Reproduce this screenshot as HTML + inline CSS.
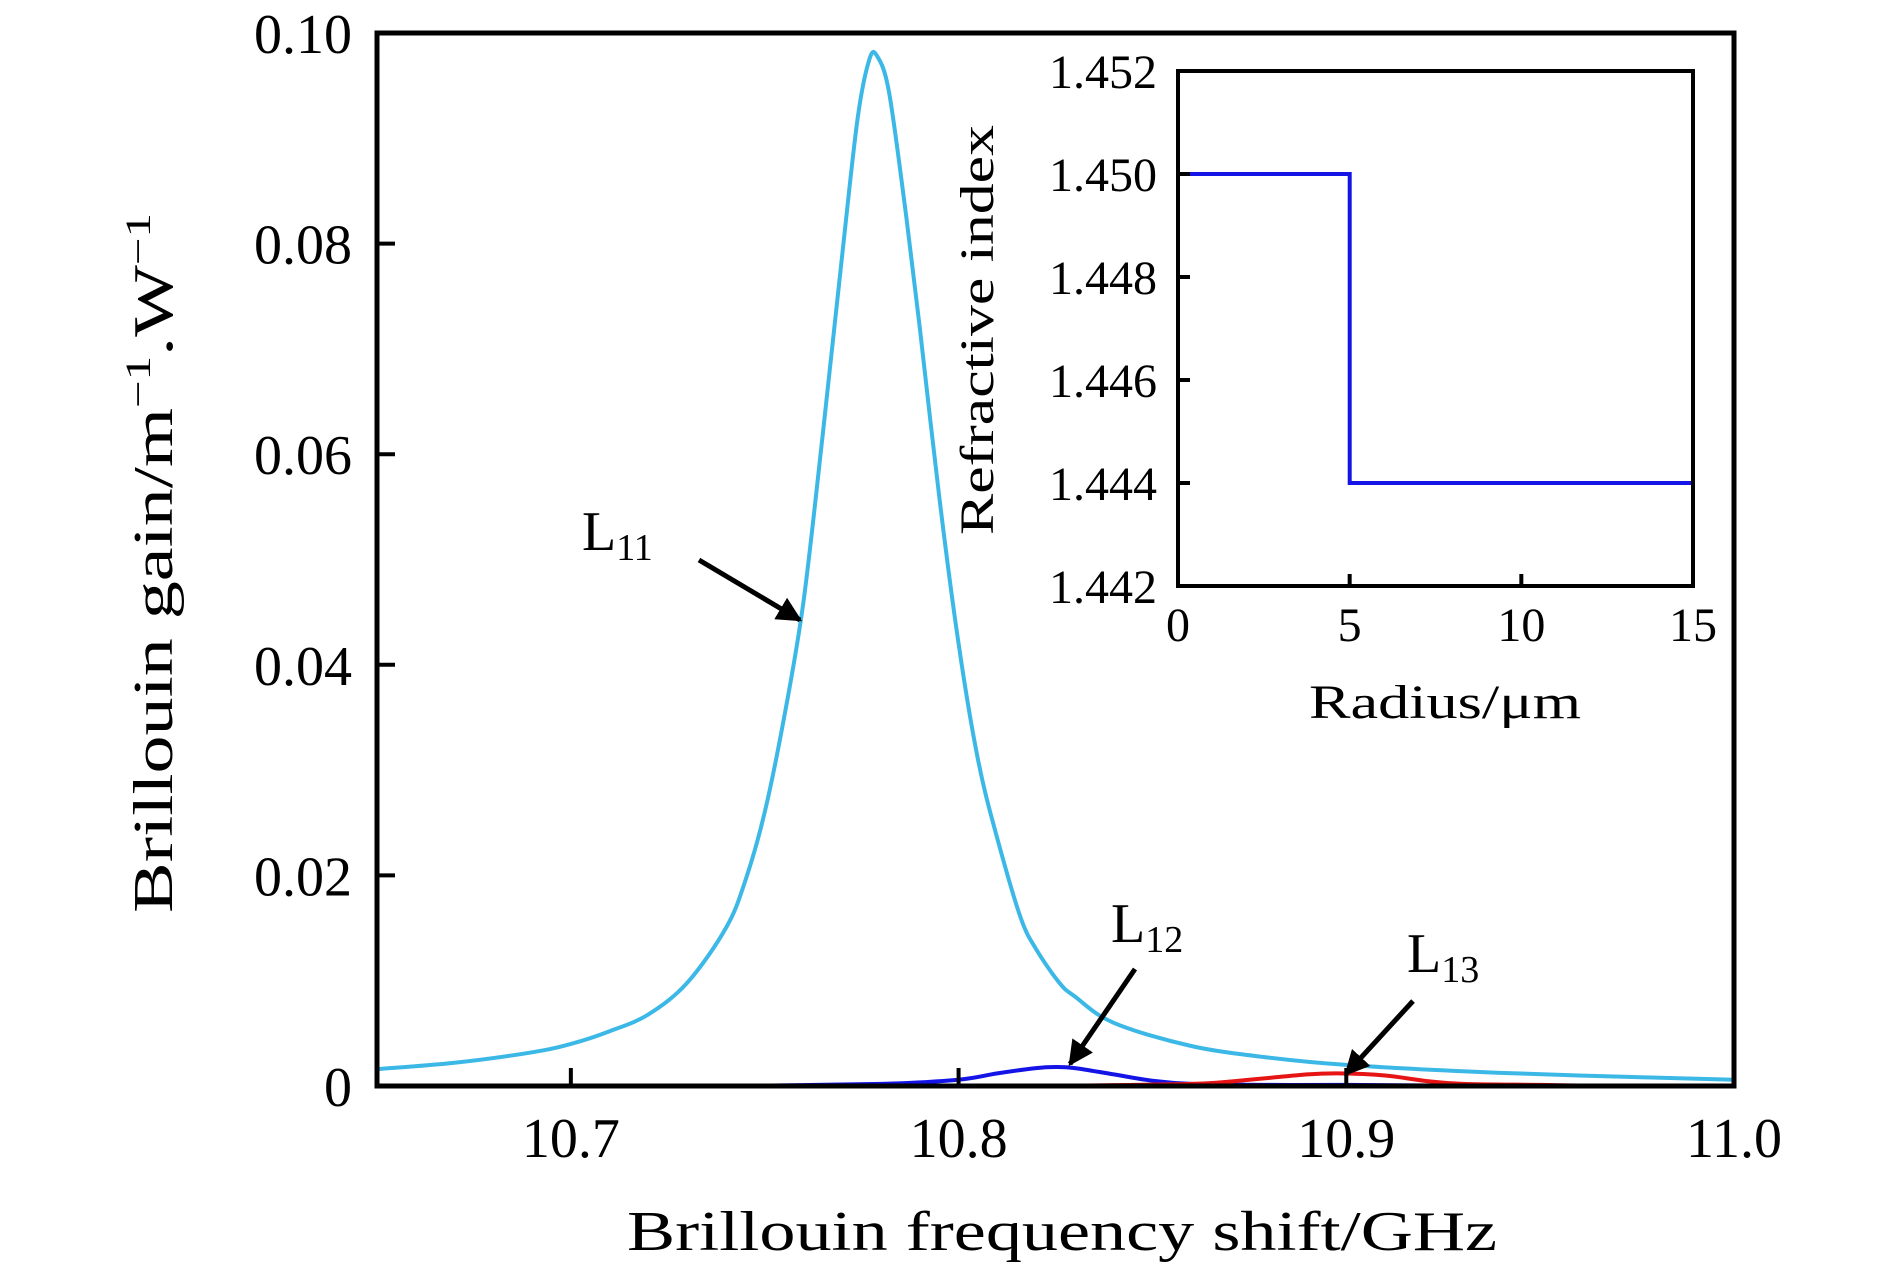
<!DOCTYPE html>
<html><head><meta charset="utf-8"><style>
html,body{margin:0;padding:0;background:#fff;}
svg{display:block;font-family:"Liberation Serif",serif;}
</style></head><body>
<svg id="chart" width="1890" height="1276" viewBox="0 0 1890 1276" xmlns="http://www.w3.org/2000/svg">
<g id="main"></g>
</svg>
<script>
// ---- main chart data ----
const xTicks = [10.7, 10.8, 10.9, 11.0];
const xTickLabels = ["10.7", "10.8", "10.9", "11.0"];
const yTicks = [0, 0.02, 0.04, 0.06, 0.08, 0.10];
const yTickLabels = ["0", "0.02", "0.04", "0.06", "0.08", "0.10"];
const l11X = [10.65,10.67,10.69,10.70,10.71,10.72,10.73,10.74,10.745,10.75,10.755,10.76,10.765,10.77,10.774,10.777,10.779,10.782,10.786,10.79,10.795,10.80,10.805,10.81,10.816,10.82,10.826,10.83,10.84,10.86,10.88,10.90,10.93,10.96,11.0];
const l11Y = [0.0016,0.0022,0.0032,0.0040,0.0052,0.0068,0.0098,0.0150,0.0195,0.0260,0.0350,0.0460,0.0620,0.0790,0.0920,0.0975,0.0978,0.0945,0.0840,0.0720,0.0560,0.0420,0.0310,0.0235,0.0160,0.0130,0.0098,0.0085,0.0060,0.0038,0.0027,0.0020,0.0014,0.0010,0.0006];
const l12X = [10.74,10.78,10.80,10.81,10.82,10.825,10.83,10.84,10.85,10.86,10.88,10.90,10.94];
const l12Y = [0,0.0002,0.0006,0.0012,0.0017,0.0018,0.0017,0.0011,0.0005,0.0002,0.0001,0.0001,0];
const l13X = [10.82,10.86,10.875,10.89,10.898,10.91,10.92,10.93,10.95,10.97];
const l13Y = [0,0.0002,0.0006,0.0011,0.0012,0.0010,0.0005,0.0002,0.0001,0];
// ---- inset data ----
const insetXTicks = [0, 5, 10, 15];
const insetYTicks = [1.442, 1.444, 1.446, 1.448, 1.450, 1.452];
const insetYTickLabels = ["1.442","1.444","1.446","1.448","1.450","1.452"];
const profileR = [0, 5, 5, 15];
const profileN = [1.450, 1.450, 1.444, 1.444];

const NS = "http://www.w3.org/2000/svg";
function mk(tag, attrs, parent){const e=document.createElementNS(NS,tag);for(const k in attrs)e.setAttribute(k,attrs[k]);parent.appendChild(e);return e;}

const P={l:377,r:1734,t:33,b:1086,x0:10.65,x1:11.0,y0:0,y1:0.10};
const sx=v=>P.l+(v-P.x0)/(P.x1-P.x0)*(P.r-P.l);
const sy=v=>P.b-(v-P.y0)/(P.y1-P.y0)*(P.b-P.t);
const main=document.getElementById('main');

function smoothPath(pts){
  let d='M'+pts[0][0].toFixed(1)+','+pts[0][1].toFixed(1);
  for(let i=0;i<pts.length-1;i++){
    const p0=pts[Math.max(0,i-1)],p1=pts[i],p2=pts[i+1],p3=pts[Math.min(pts.length-1,i+2)];
    const c1=[p1[0]+(p2[0]-p0[0])/6,p1[1]+(p2[1]-p0[1])/6];
    const c2=[p2[0]-(p3[0]-p1[0])/6,p2[1]-(p3[1]-p1[1])/6];
    d+=' C'+c1[0].toFixed(1)+','+c1[1].toFixed(1)+' '+c2[0].toFixed(1)+','+c2[1].toFixed(1)+' '+p2[0].toFixed(1)+','+p2[1].toFixed(1);
  }
  return d;
}
function series(xs,ys,color,name){
  const pts=xs.map((x,i)=>[sx(x),sy(ys[i])]);
  const p=mk('path',{d:smoothPath(pts),fill:'none',stroke:color,'stroke-width':4,'stroke-linejoin':'round'},main);
  
  
}
series(l12X,l12Y,'#1414e6','series-l12');
series(l13X,l13Y,'#e61414','series-l13');
series(l11X,l11Y,'#3cb8e6','series-l11');

const fr=mk('rect',{x:P.l,y:P.t,width:P.r-P.l,height:P.b-P.t,fill:'none',stroke:'#000','stroke-width':5},main);



xTicks.forEach((v,i)=>{
  const t=mk('line',{x1:sx(v),x2:sx(v),y1:P.b,y2:P.b-18,stroke:'#000','stroke-width':4},main);
  
  
  const l=mk('text',{x:sx(v),y:1157,'font-size':56,'text-anchor':'middle'},main);
  l.textContent=xTickLabels[i];
  
  
});
yTicks.forEach((v,i)=>{
  const t=mk('line',{x1:P.l,x2:P.l+18,y1:sy(v),y2:sy(v),stroke:'#000','stroke-width':4},main);
  
  
  const l=mk('text',{x:352,y:sy(v)+20,'font-size':56,'text-anchor':'end'},main);
  l.textContent=yTickLabels[i];
  
  
});
</script>
<svg style="position:absolute;left:0;top:0" width="1890" height="1276" viewBox="0 0 1890 1276" xmlns="http://www.w3.org/2000/svg" font-family="Liberation Serif, serif">
<defs><marker id="ah" viewBox="0 0 10 10" refX="9" refY="5" markerWidth="5" markerHeight="5" orient="auto"><path d="M0,0 L10,5 L0,10 z" fill="#000"/></marker></defs>
<text x="1062" y="1250" font-size="56" text-anchor="middle" textLength="870" lengthAdjust="spacingAndGlyphs">Brillouin frequency shift/GHz</text>
<text transform="translate(172,563) rotate(-90)" font-size="56" text-anchor="middle" textLength="700" lengthAdjust="spacingAndGlyphs">Brillouin gain/m<tspan font-size="36" dy="-22">−1</tspan><tspan dy="22">.W</tspan><tspan font-size="36" dy="-22">−1</tspan></text>
<g><text x="582" y="550" font-size="56">L<tspan font-size="38" dy="10">11</tspan></text></g>
<line x1="699" y1="560" x2="800" y2="620" stroke="#000" stroke-width="5" marker-end="url(#ah)"/>
<g><text x="1111" y="942" font-size="56">L<tspan font-size="38" dy="10">12</tspan></text></g>
<line x1="1135" y1="969" x2="1070" y2="1064" stroke="#000" stroke-width="5" marker-end="url(#ah)"/>
<g><text x="1407" y="972" font-size="56">L<tspan font-size="38" dy="10">13</tspan></text></g>
<line x1="1413" y1="1001" x2="1346" y2="1074" stroke="#000" stroke-width="5" marker-end="url(#ah)"/>
<g id="inset2"></g>
</svg>
<script>
(function(){
const NS="http://www.w3.org/2000/svg";
function mk(tag,attrs,parent){const e=document.createElementNS(NS,tag);for(const k in attrs)e.setAttribute(k,attrs[k]);parent.appendChild(e);return e;}
const I={l:1178,r:1693,t:71,b:586,x0:0,x1:15,y0:1.442,y1:1.452};
const ix=v=>I.l+(v-I.x0)/(I.x1-I.x0)*(I.r-I.l);
const iy=v=>I.b-(v-I.y0)/(I.y1-I.y0)*(I.b-I.t);
const g=document.getElementById('inset2');
const bg=mk('rect',{x:I.l,y:I.t,width:I.r-I.l,height:I.b-I.t,fill:'#fff',stroke:'none'},g);


const d=profileR.map((r,i)=>(i?'L':'M')+ix(r).toFixed(1)+','+iy(profileN[i]).toFixed(1)).join(' ');
const p=mk('path',{d:d,fill:'none',stroke:'#1414e6','stroke-width':4},g);


const fr=mk('rect',{x:I.l,y:I.t,width:I.r-I.l,height:I.b-I.t,fill:'none',stroke:'#000','stroke-width':4},g);


insetXTicks.forEach(v=>{
  const t=mk('line',{x1:ix(v),x2:ix(v),y1:I.b,y2:I.b-12,stroke:'#000','stroke-width':4},g);
  
  
  const l=mk('text',{x:ix(v),y:641,'font-size':48,'text-anchor':'middle'},g);
  l.textContent=String(v);
  
  
});
insetYTicks.forEach((v,i)=>{
  const t=mk('line',{x1:I.l,x2:I.l+12,y1:iy(v),y2:iy(v),stroke:'#000','stroke-width':4},g);
  
  
  const l=mk('text',{x:1157,y:iy(v)+17,'font-size':48,'text-anchor':'end'},g);
  l.textContent=insetYTickLabels[i];
  
  
});
const xt=mk('text',{x:1445,y:718,'font-size':48,'text-anchor':'middle',textLength:272,lengthAdjust:'spacingAndGlyphs'},g);
xt.textContent='Radius/μm';


const yt=mk('text',{transform:'translate(993,330) rotate(-90)','font-size':48,'text-anchor':'middle',textLength:410,lengthAdjust:'spacingAndGlyphs'},g);
yt.textContent='Refractive index';


})();
</script>
</body></html>
